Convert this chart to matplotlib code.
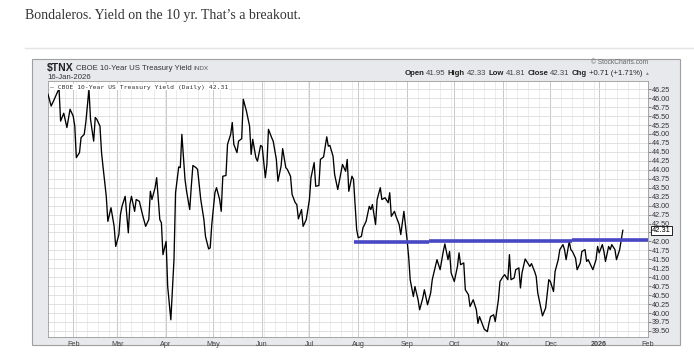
import pandas as pd
import matplotlib.pyplot as plt
import matplotlib.dates as mdates
from matplotlib.patches import Rectangle
from matplotlib.lines import Line2D

# ---- data ----
start = pd.Timestamp("2025-01-16")
days = [0, 2, 4, 7, 8, 10, 12, 14, 16, 17, 18, 20, 21, 23, 24, 26, 27, 29, 30, 31,
        33, 34, 35, 37, 38, 40, 42, 43, 45, 46, 47, 49, 51, 52, 53, 55, 56, 58, 60, 62,
        64, 65, 66, 68, 69, 71, 72, 73, 75, 76, 78, 80, 81, 83, 84, 85, 87, 88, 90, 91,
        92, 94, 95, 97, 99, 100, 102, 103, 104, 106, 107, 109, 110, 111, 113, 114, 116, 117, 118, 120,
        121, 123, 124, 126, 128, 129, 130, 132, 133, 135, 136, 138, 139, 140, 142, 143, 145, 146, 148, 149,
        151, 152, 154, 155, 157, 158, 159, 161, 162, 164, 166, 167, 169, 170, 172, 173, 175, 177, 178, 179,
        181, 182, 184, 186, 187, 189, 190, 191, 193, 194, 196, 197, 199, 200, 202, 204, 205, 206, 208, 209,
        211, 212, 214, 216, 217, 218, 220, 221, 223, 224, 225, 226, 228, 229, 230, 232, 233, 235, 236, 238,
        239, 241, 243, 244, 246, 247, 249, 251, 252, 254, 255, 256, 258, 260, 261, 262, 264, 265, 267, 268,
        270, 272, 273, 274, 276, 277, 279, 280, 281, 283, 284, 286, 287, 289, 290, 292, 293, 294, 296, 297,
        299, 300, 301, 303, 304, 306, 307, 309, 310, 311, 313, 314, 316, 318, 319, 321, 322, 324, 325, 327,
        328, 329, 331, 332, 333, 335, 336, 338, 339, 341, 342, 343, 345, 346, 348, 349, 350, 352, 353, 354,
        356, 357, 358, 360, 361, 363, 365]
yields = [46.11, 45.78, 45.97, 46.27, 45.36, 45.58, 45.18, 45.69, 45.50, 45.22,
          44.34, 44.48, 44.90, 44.99, 45.32, 46.25, 45.41, 44.80, 45.46, 45.41,
          45.22, 44.48, 44.06, 43.26, 42.56, 42.94, 42.42, 41.86, 42.19, 42.75,
          42.98, 43.26, 42.24, 43.03, 43.26, 42.84, 43.17, 43.12, 42.75, 42.42,
          42.61, 43.40, 43.17, 43.50, 43.78, 42.61, 42.52, 41.63, 42.00, 40.74,
          39.81, 41.49, 43.36, 44.08, 44.06, 44.99, 43.73, 43.40, 42.89, 43.54,
          44.12, 44.06, 44.01, 43.17, 42.61, 42.14, 41.79, 41.82, 42.47, 43.36,
          43.50, 43.17, 42.84, 43.82, 43.84, 44.71, 44.99, 45.32, 44.71, 44.48,
          44.80, 44.87, 45.97, 45.64, 45.22, 44.43, 44.85, 44.34, 44.24, 44.68,
          44.65, 43.78, 44.15, 45.13, 44.90, 44.80, 44.29, 43.68, 44.10, 44.59,
          44.06, 44.01, 43.82, 43.31, 43.08, 43.03, 42.63, 42.89, 42.42, 42.61,
          43.17, 43.78, 44.20, 43.54, 43.56, 44.29, 44.36, 44.92, 44.66, 44.68,
          44.38, 43.87, 43.45, 43.92, 44.15, 43.96, 44.29, 43.40, 43.82, 43.73,
          42.33, 42.10, 42.14, 42.38, 42.56, 42.98, 42.89, 43.03, 42.47, 43.17,
          43.50, 43.17, 43.22, 43.08, 43.36, 42.70, 42.84, 42.70, 42.47, 42.19,
          42.52, 42.84, 42.05, 41.58, 40.93, 40.46, 40.74, 40.37, 40.09, 40.42,
          40.65, 40.23, 40.56, 40.93, 41.30, 41.49, 41.21, 41.72, 41.93, 41.49,
          41.72, 41.12, 40.88, 41.30, 41.68, 41.35, 41.40, 40.65, 40.51, 40.18,
          40.37, 40.09, 39.71, 39.90, 39.67, 39.55, 39.48, 39.71, 39.90, 39.95,
          39.76, 40.37, 40.88, 41.02, 41.07, 40.93, 41.63, 40.93, 40.98, 41.21,
          41.26, 40.70, 41.12, 41.51, 41.44, 41.30, 41.38, 41.16, 41.02, 40.56,
          40.14, 39.92, 40.14, 40.93, 40.88, 40.60, 41.16, 41.49, 41.77, 41.91,
          41.77, 41.49, 42.00, 41.77, 41.72, 41.53, 41.21, 41.40, 41.72, 41.77,
          41.44, 41.49, 41.30, 41.21, 41.49, 41.86, 41.68, 41.91, 41.72, 41.44,
          41.86, 41.77, 41.91, 41.77, 41.49, 41.77, 42.31]

# hand-drawn breakout line (three pieces)
level_days = [194, 242, 333, 381]
level_vals = [41.98, 42.01, 42.04]

month_starts = ["2025-02-01", "2025-03-01", "2025-04-01", "2025-05-01", "2025-06-01", "2025-07-01",
                "2025-08-01", "2025-09-01", "2025-10-01", "2025-11-01", "2025-12-01", "2026-01-01", "2026-02-01"]
month_labels = ["Feb", "Mar", "Apr", "May", "Jun", "Jul", "Aug", "Sep", "Oct", "Nov", "Dec", "2026", "Feb"]
last_close = 42.31

dates = start + pd.to_timedelta(days, unit="D")

# ---- figure ----
W, H = 694, 364
fig = plt.figure(figsize=(W / 100, H / 100), dpi=100)


def fx(x):
    return x / W


def fy(y):
    return 1 - y / H


fig.text(fx(25), fy(16), "Bondaleros. Yield on the 10 yr. That\u2019s a breakout.",
         family="Liberation Serif", fontsize=10, color="#333333", va="center")
fig.add_artist(Line2D([fx(25), 1], [fy(48), fy(48)], color="#e4e4e4", lw=1))

panel = Rectangle((fx(32), fy(345)), (680 - 32) / W, (345 - 59) / H, transform=fig.transFigure,
                  facecolor="#e7e9ed", edgecolor="#a0a0a0", lw=0.8, zorder=-1)
fig.add_artist(panel)

ax = fig.add_axes([fx(48), fy(337), 600 / W, 256 / H])
ax.set_facecolor("white")
ax.plot(dates, yields, color="black", lw=0.95, zorder=3)

for i in range(len(level_vals)):
    d0 = start + pd.Timedelta(days=level_days[i])
    d1 = start + pd.Timedelta(days=level_days[i + 1])
    ax.plot([d0, d1], [level_vals[i], level_vals[i]], color="#4848c4", lw=2.6,
            solid_capstyle="butt", zorder=4)

ax.set_xlim(start, pd.Timestamp("2026-02-01"))
ax.set_ylim(39.33, 46.48)

# y axis on the right
yt = [39.50 + 0.25 * k for k in range(28)]
ax.yaxis.tick_right()
ax.set_yticks(yt)
ax.set_yticklabels(["" if abs(v - 42.25) < 1e-6 else f"{v:.2f}" for v in yt])
ax.tick_params(axis="y", length=2, width=0.5, pad=1, labelsize=5.2, labelcolor="#333333", colors="#555555")
for lab in ax.get_yticklabels():
    lab.set_family("Liberation Sans")
ax.annotate(f"{last_close:.2f}", xy=(1, last_close), xycoords=("axes fraction", "data"),
            xytext=(3, 0), textcoords="offset points", va="center", ha="left",
            fontsize=5.4, family="Liberation Sans", color="black",
            bbox=dict(boxstyle="square,pad=0.15", fc="white", ec="black", lw=0.6))

# x axis: months
ax.set_xticks(pd.to_datetime(month_starts))
ax.set_xticklabels(month_labels)
ax.xaxis.set_minor_locator(mdates.WeekdayLocator(byweekday=mdates.MO))
ax.tick_params(axis="x", which="both", length=0, pad=3, labelsize=5.2, labelcolor="#444444")
for lab in ax.get_xticklabels():
    lab.set_family("Liberation Sans")
    if lab.get_text() == "2026":
        lab.set_fontweight("bold")

ax.grid(True, axis="y", color="#dcdcdc", lw=0.6)
ax.grid(True, axis="x", which="major", color="#c8c8c8", lw=0.7)
ax.grid(True, axis="x", which="minor", color="#e4e4e4", lw=0.5)
ax.set_axisbelow(True)
for s in ax.spines.values():
    s.set_color("#9a9a9a")
    s.set_linewidth(0.6)
ax.spines["bottom"].set_linestyle((0, (1, 1)))

# ---- header texts ----
renderer = fig.canvas.get_renderer()


def run_left(x, y, pieces):
    for s, kw in pieces:
        t = fig.text(fx(x), fy(y), s, va="center", ha="left", family="Liberation Sans", **kw)
        x += t.get_window_extent(renderer).width + 2


def run_right(x, y, pieces):
    for s, kw in reversed(pieces):
        t = fig.text(fx(x), fy(y), s, va="center", ha="right", family="Liberation Sans", **kw)
        x -= t.get_window_extent(renderer).width + 2


run_left(47, 68, [("$TNX", dict(fontsize=7.5, fontweight="bold", color="#222222")),
                  ("CBOE 10-Year US Treasury Yield", dict(fontsize=5.6, color="#333333")),
                  ("INDX", dict(fontsize=4.6, color="#555555"))])
fig.text(fx(47), fy(77.5), "16-Jan-2026", va="center", family="Liberation Sans", fontsize=5.6, color="#333333")

fig.text(fx(648), fy(63), "\u00a9 StockCharts.com", va="center", ha="right",
         family="Liberation Sans", fontsize=4.8, color="#666666")
run_right(649, 73.5, [("Open", dict(fontsize=5.6, fontweight="bold", color="#222222")),
                      ("41.95", dict(fontsize=5.6, color="#444444")),
                      ("High", dict(fontsize=5.6, fontweight="bold", color="#222222")),
                      ("42.33", dict(fontsize=5.6, color="#444444")),
                      ("Low", dict(fontsize=5.6, fontweight="bold", color="#222222")),
                      ("41.81", dict(fontsize=5.6, color="#444444")),
                      ("Close", dict(fontsize=5.6, fontweight="bold", color="#222222")),
                      ("42.31", dict(fontsize=5.6, color="#444444")),
                      ("Chg", dict(fontsize=5.6, fontweight="bold", color="#222222")),
                      ("+0.71 (+1.71%)", dict(fontsize=5.6, color="#222222")),
                      ("\u25b2", dict(fontsize=3.5, color="#888888"))])

ax.text(0.004, 0.985, "\u2014 CBOE 10-Year US Treasury Yield (Daily) 42.31", transform=ax.transAxes,
        va="top", ha="left", family="DejaVu Sans Mono", fontsize=4.6, color="#333333",
        bbox=dict(boxstyle="square,pad=0.1", fc="white", ec="none"), zorder=5)

fig.savefig("out.png", dpi=100)
